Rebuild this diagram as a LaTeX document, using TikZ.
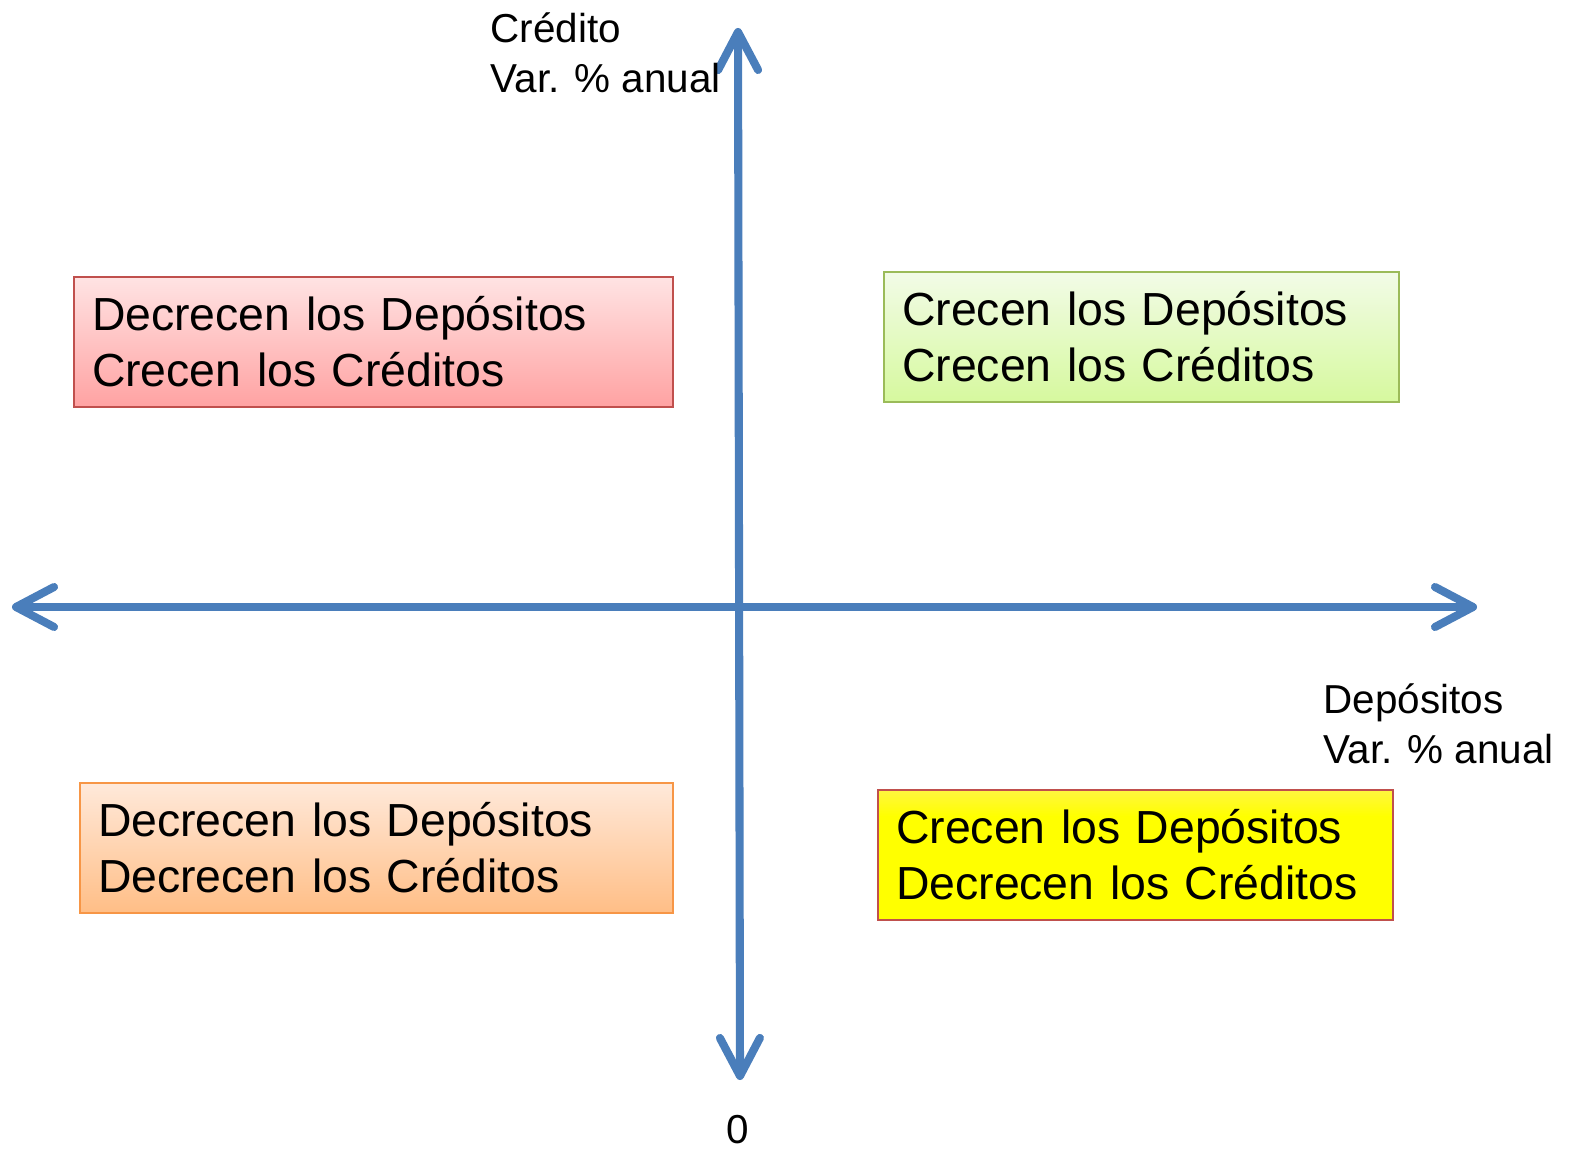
\documentclass[tikz,border=0pt]{standalone}
\usepackage{fontspec}
\setmainfont{Liberation Sans}
\usetikzlibrary{
	positioning,
	arrows.meta
}
\definecolor{axiscolor}{HTML}{4A7EBB}
\definecolor{redline}{HTML}{C0504D}
\definecolor{greenline}{HTML}{9BBB59}
\definecolor{orangeline}{HTML}{F79646}
\definecolor{pinktop}{HTML}{FFE2DE}
\pgfdeclareverticalshading{yellowfade}{100bp}{
	color(0bp)=(yellow); color(50bp)=(yellow); color(65bp)=(yellow);
	color(100bp)=(pinktop)}
\tikzset{
	quadbox/.style={
		draw,
		line width=0.6pt,
		rectangle,
		anchor=north west,
		minimum height=1.30cm,
		inner xsep=0.18cm,
		inner ysep=0pt,
		align=left,
		font=\fontsize{13.2}{15.9}\selectfont
	},
	redbox/.style={
		quadbox,
		draw=redline,
		top color={rgb,255:red,255;green,227;blue,227},
		bottom color={rgb,255:red,255;green,162;blue,162},
		text width=5.63cm
	},
	greenbox/.style={
		quadbox,
		draw=greenline,
		top color={rgb,255:red,242;green,251;blue,231},
		bottom color={rgb,255:red,214;green,249;blue,158},
		text width=4.79cm
	},
	orangebox/.style={
		quadbox,
		draw=orangeline,
		top color={rgb,255:red,255;green,233;blue,218},
		bottom color={rgb,255:red,255;green,190;blue,134},
		text width=5.57cm
	},
	yellowbox/.style={
		quadbox,
		draw=redline,
		shading=yellowfade,
		text width=4.79cm
	},
	axislabel/.style={
		anchor=north west,
		inner sep=0pt,
		align=left,
		font=\fontsize{11.5}{14.2}\selectfont
	},
	axis/.style={
		{Straight Barb[length=0.38cm,width=0.40cm,round]}-{Straight Barb[length=0.38cm,width=0.40cm,round]},
		color=axiscolor,
		line width=2.3pt
	}
}

\begin{document}
\begin{tikzpicture}
	\useasboundingbox (0,0) rectangle (15.74,11.6);
	
	% Axes
	\coordinate (left) at (0.12,5.53);
	\coordinate (right) at (14.77,5.53);
	\coordinate (top) at (7.38,11.32);
	\coordinate (bottom) at (7.40,0.80);
	\draw[axis] (left) -- (right);
	\draw[axis] (bottom) -- (top);
	
	% Nodes
	% Quadrants
	\node[redbox] (decdep) at (0.73,8.84)
	{Decrecen los Depósitos\\Crecen los Créditos};
	
	\node[greenbox] (credep) at (8.83,8.89)
	{Crecen los Depósitos\\Crecen los Créditos};
	
	\node[orangebox] (decboth) at (0.79,3.78)
	{Decrecen los Depósitos\\Decrecen los Créditos};
	
	\node[yellowbox] (crecdec) at (8.77,3.71)
	{Crecen los Depósitos\\Decrecen los Créditos};
	
	% Axis labels
	\node[axislabel] (ylabel) at (4.90,11.48) {Crédito\\Var. \% anual};
	\node[axislabel] (xlabel) at (13.23,4.77) {Depósitos\\Var. \% anual};
	\node[inner sep=0pt, font=\fontsize{11.5}{14.2}\selectfont] (zero) at (7.38,0.30) {0};
	
\end{tikzpicture}
\end{document}
